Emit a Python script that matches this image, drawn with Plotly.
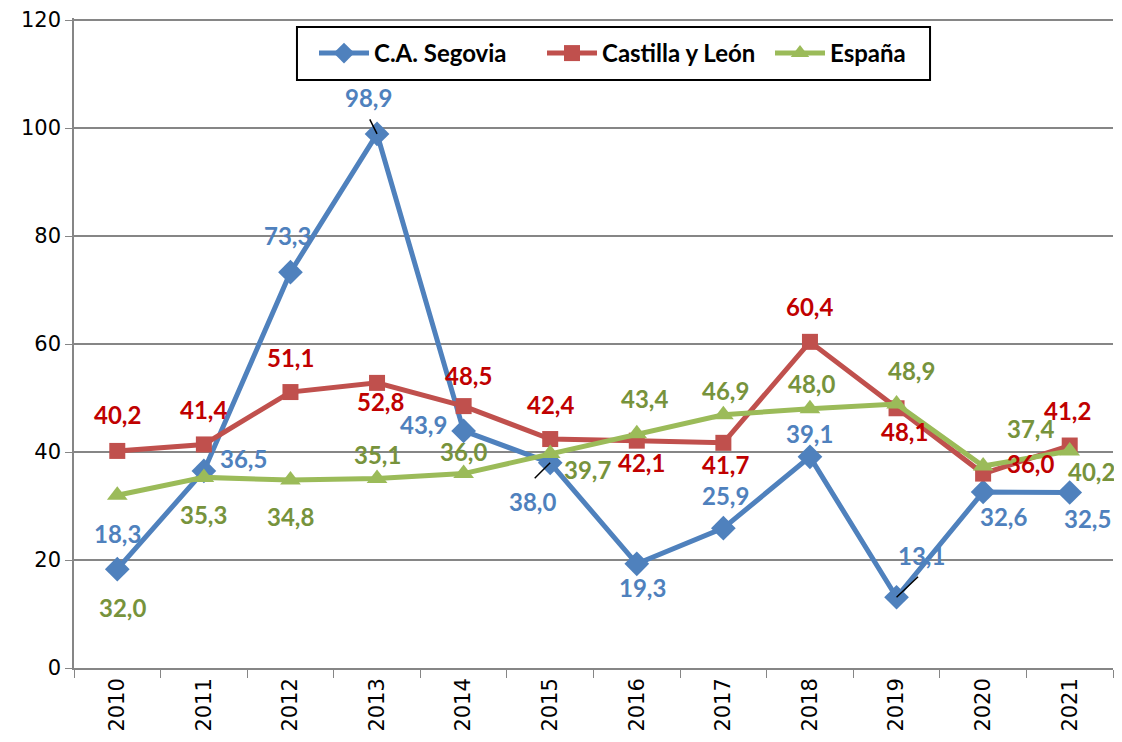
import plotly.graph_objects as go

years = ["2010", "2011", "2012", "2013", "2014", "2015", "2016", "2017", "2018", "2019", "2020", "2021"]
segovia = [18.3, 36.5, 73.3, 98.9, 43.9, 38.0, 19.3, 25.9, 39.1, 13.1, 32.6, 32.5]
castilla = [40.2, 41.4, 51.1, 52.8, 48.5, 42.4, 42.1, 41.7, 60.4, 48.1, 36.0, 41.2]
espana = [32.0, 35.3, 34.8, 35.1, 36.0, 39.7, 43.4, 46.9, 48.0, 48.9, 37.4, 40.2]
y_ticks = [0, 20, 40, 60, 80, 100, 120]

# label offsets in pixels (dx, dy with dy positive = downward)
seg_off = [(0, -36), (40, -12), (-3, -37), (-9, -36), (-40, -6), (-18, 39), (6, 24), (2, -33), (0, -23), (25, -42), (20, 25), (18, 26)]
cyl_off = [(0, -36), (0, -35), (0, -35), (3, 19), (5, -31), (0, -35), (5, 22), (2, 22), (0, -35), (8, 23), (47, -10), (-2, -35)]
esp_off = [(5, 112), (0, 37), (0, 36), (0, -24), (0, -22), (37, 16), (8, -35), (2, -24), (2, -25), (15, -33), (47, -38), (22, 21)]
# leader lines: (point index, ax, ay)
leaders = [(3, -8, -16), (5, -17, 17), (9, 23, -22)]

BLUE = "#4F81BD"
RED = "#C0504D"
GREEN = "#9BBB59"
BLUE_T = "#4F81BD"
RED_T = "#C00000"
GREEN_T = "#77933C"

fig = go.Figure()
fig.add_trace(go.Scatter(x=years, y=segovia, name="C.A. Segovia", mode="lines+markers",
                         line=dict(color=BLUE, width=5),
                         marker=dict(symbol="diamond", size=19, color=BLUE)))
fig.add_trace(go.Scatter(x=years, y=castilla, name="Castilla y León", mode="lines+markers",
                         line=dict(color=RED, width=5),
                         marker=dict(symbol="square", size=16, color=RED)))
fig.add_trace(go.Scatter(x=years, y=espana, name="España", mode="lines+markers",
                         line=dict(color=GREEN, width=5),
                         marker=dict(symbol="triangle-up", size=18, color=GREEN)))

LABEL_FONT = "Lato"

def fmt(v):
    return f"{v:.1f}".replace(".", ",")

for vals, offs, col in [(segovia, seg_off, BLUE_T), (castilla, cyl_off, RED_T), (espana, esp_off, GREEN_T)]:
    for i, (v, (dx, dy)) in enumerate(zip(vals, offs)):
        fig.add_annotation(x=i, y=v, xref="x", yref="y", text=fmt(v), showarrow=False,
                           xshift=dx, yshift=-dy,
                           font=dict(family=LABEL_FONT, size=24, color=col, weight="bold"))

for i, ax, ay in leaders:
    fig.add_annotation(x=i, y=segovia[i], xref="x", yref="y", text="", showarrow=True,
                       ax=ax, ay=ay, arrowhead=0, arrowwidth=1.5, arrowcolor="black", standoff=0)

# legend frame (paper coords of the plot area)
fig.add_shape(type="rect", xref="paper", yref="paper",
              x0=0.2146, x1=0.8239, y0=0.9046, y1=0.9862,
              line=dict(color="black", width=2), fillcolor="white", layer="above")

fig.update_layout(
    width=1114, height=734,
    margin=dict(l=66, r=9, t=10, b=74, autoexpand=False),
    paper_bgcolor="white", plot_bgcolor="white",
    showlegend=True,
    legend=dict(orientation="h", x=0.2310, xanchor="left", y=0.9454, yanchor="middle",
                borderwidth=0, bgcolor="rgba(0,0,0,0)",
                font=dict(family=LABEL_FONT, size=24, color="black", weight="bold"),
                itemwidth=50, entrywidth=163, traceorder="normal"),
    xaxis=dict(type="category", range=[-0.5, 11.5], showgrid=False, automargin=False,
               showline=True, linecolor="#868686", linewidth=1.5,
               ticks="outside", tickson="boundaries", ticklen=8, tickcolor="#868686",
               tickangle=-90, tickfont=dict(family="DejaVu Sans", size=21, color="black")),
    yaxis=dict(range=[0, 120.37], tickmode="array", tickvals=y_ticks, automargin=False,
               showgrid=True, gridcolor="#868686", gridwidth=1.5,
               showline=True, linecolor="#868686", linewidth=1.5,
               ticks="outside", ticklen=7, tickcolor="#868686", zeroline=False,
               ticklabeloverflow="allow",
               tickfont=dict(family="DejaVu Sans", size=21, color="black")),
)

fig.write_html("out.html")
